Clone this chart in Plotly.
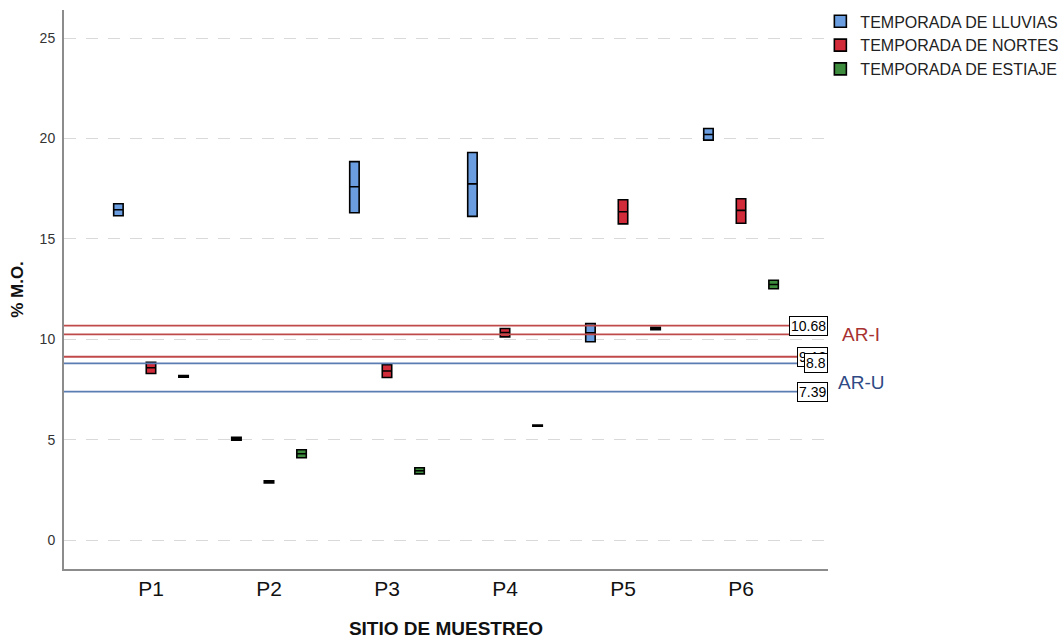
import plotly.graph_objects as go

sites = ["P1", "P2", "P3", "P4", "P5", "P6"]
seasons = ["TEMPORADA DE LLUVIAS", "TEMPORADA DE NORTES", "TEMPORADA DE ESTIAJE"]
colors = ["#6a9ee0", "#d22b3a", "#3d8b3d"]

# quartiles per season (Lluvias, Nortes, Estiaje) for each site
q1 = [
    [16.15, 4.98, 16.30, 16.12, 9.88, 19.92],
    [8.30, 2.85, 8.10, 10.12, 15.75, 15.78],
    [8.11, 4.10, 3.30, 5.67, 10.48, 12.52],
]
median = [
    [16.45, 5.05, 17.60, 17.74, 10.32, 20.20],
    [8.58, 2.90, 8.42, 10.33, 16.35, 16.42],
    [8.15, 4.30, 3.45, 5.70, 10.54, 12.73],
]
q3 = [
    [16.75, 5.12, 18.85, 19.30, 10.78, 20.50],
    [8.86, 2.95, 8.73, 10.54, 16.95, 17.00],
    [8.19, 4.50, 3.60, 5.73, 10.60, 12.94],
]

# reference lines
ref_values = [10.68, 10.25, 9.13, 8.8, 7.39]
ref_colors = ["#c04a4a", "#c04a4a", "#c04a4a", "#5b7db3", "#5b7db3"]
ref_labels = ["10.68", None, "9.13", "8.8", "7.39"]
group_labels = ["AR-I", "AR-U"]
group_label_y = [10.24, 7.86]
group_label_colors = ["#a83232", "#2f4a85"]

fig = go.Figure()
for i, s in enumerate(seasons):
    fig.add_trace(go.Box(
        name=s,
        x=sites,
        q1=q1[i],
        median=median[i],
        q3=q3[i],
        lowerfence=q1[i],
        upperfence=q3[i],
        fillcolor=colors[i],
        line=dict(color="black", width=1.6),
        whiskerwidth=0,
        boxpoints=False,
        hoverinfo="skip",
    ))

for v, c in zip(ref_values, ref_colors):
    fig.add_shape(type="line", xref="paper", yref="y", x0=0, x1=1, y0=v, y1=v,
                  line=dict(color=c, width=1.8), layer="above")

for v, lab in zip(ref_values, ref_labels):
    if lab is None:
        continue
    fig.add_annotation(x=1, xref="paper", y=v, yref="y", text=lab, showarrow=False,
                       xanchor="right", yanchor="middle",
                       font=dict(family="Liberation Sans, Arial", size=14, color="black"),
                       bgcolor="white", bordercolor="black", borderwidth=1, borderpad=1)

for lab, yv, col in zip(group_labels, group_label_y, group_label_colors):
    fig.add_annotation(x=1.043, xref="paper", y=yv, yref="y", text=lab, showarrow=False,
                       xanchor="center", yanchor="middle",
                       font=dict(family="Liberation Sans, Arial", size=19, color=col))

fig.update_layout(
    width=1058, height=639,
    margin=dict(l=64, r=230, t=10, b=70, autoexpand=False),
    paper_bgcolor="white", plot_bgcolor="white",
    boxmode="group", boxgap=0.172, boxgroupgap=0.71,
    showlegend=True,
    legend=dict(x=0.99, xanchor="left", y=1.01, yanchor="top",
                font=dict(family="Liberation Sans, Arial", size=16, color="#222"),
                tracegroupgap=0, itemwidth=30, bgcolor="rgba(0,0,0,0)"),
    font=dict(family="Liberation Sans, Arial", color="#333"),
)

fig.update_xaxes(
    type="category", categoryorder="array", categoryarray=sites,
    range=[-0.737, 5.737],
    showline=True, linecolor="#8c8c8c", linewidth=2,
    showgrid=False, ticks="", ticklabelstandoff=0,
    tickfont=dict(family="Liberation Sans, Arial", size=21, color="#111"),
    title=dict(text="<b>SITIO DE MUESTREO</b>", standoff=22,
               font=dict(family="Liberation Sans, Arial", size=19, color="#111")),
)
fig.update_yaxes(
    range=[-1.44, 26.4],
    tickvals=[0, 5, 10, 15, 20, 25],
    showline=True, linecolor="#8c8c8c", linewidth=2,
    showgrid=True, gridcolor="#d9d9d9", gridwidth=1, griddash="12px,10px",
    zeroline=False, ticks="", ticklabelstandoff=4,
    tickfont=dict(family="Liberation Sans, Arial", size=14, color="#333"),
    title=dict(text="<b>% M.O.</b>", standoff=12,
               font=dict(family="Liberation Sans, Arial", size=17, color="#111")),
)

fig.write_html("out.html")
